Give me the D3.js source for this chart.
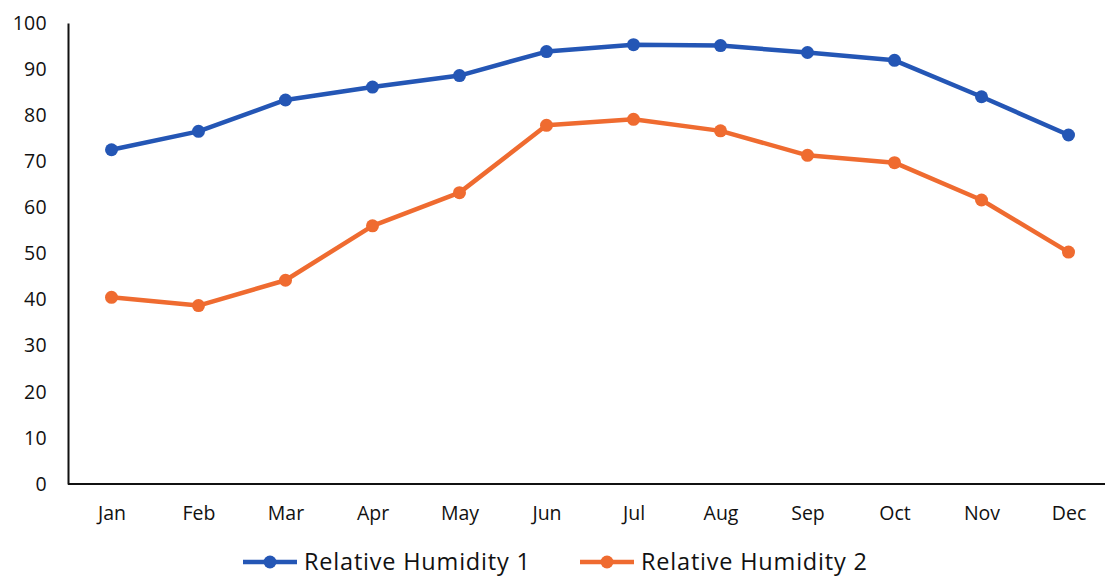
<!DOCTYPE html>
<html>
<head>
<meta charset="utf-8">
<script src="https://cdn.jsdelivr.net/npm/d3@7"></script>
<style>
  body { margin: 0; background: #fff; }
  text { font-family: "Open Sans", Lato, sans-serif; fill: #111; }
</style>
</head>
<body>
<div id="chart"></div>
<script>
// chart data
const months = ["Jan", "Feb", "Mar", "Apr", "May", "Jun", "Jul", "Aug", "Sep", "Oct", "Nov", "Dec"];
const humidity1 = [72.5, 76.5, 83.3, 86.1, 88.6, 93.8, 95.3, 95.1, 93.6, 91.9, 84.0, 75.7];
const humidity2 = [40.5, 38.7, 44.2, 56.0, 63.2, 77.8, 79.1, 76.6, 71.3, 69.7, 61.6, 50.3];
const seriesNames = ["Relative Humidity 1", "Relative Humidity 2"];
const seriesColors = ["#2456b5", "#ef6b30"];
const yTicks = [0, 10, 20, 30, 40, 50, 60, 70, 80, 90, 100];

const width = 1105, height = 576;
const margin = { top: 23, right: -7, bottom: 92, left: 68 };

const svg = d3.select("#chart").append("svg")
    .attr("width", width)
    .attr("height", height);

const x = d3.scalePoint()
    .domain(months)
    .range([margin.left, width - margin.right])
    .padding(0.5);

const y = d3.scaleLinear()
    .domain([0, 100])
    .range([height - margin.bottom, margin.top]);

// y axis
const yAxis = svg.append("g")
    .attr("transform", `translate(${margin.left},0)`)
    .call(d3.axisLeft(y).tickValues(yTicks).tickSize(0).tickPadding(21));
yAxis.select(".domain").attr("stroke", "#111").attr("stroke-width", 2);
yAxis.selectAll("text").style("font-size", "19.5px").style("letter-spacing", "0.3px").attr("fill", "#111");

// x axis
const xAxis = svg.append("g")
    .attr("transform", `translate(0,${y(0)})`)
    .call(d3.axisBottom(x).tickSize(0).tickPadding(22));
xAxis.select(".domain").attr("stroke", "#111").attr("stroke-width", 2)
    .attr("d", `M${margin.left},0H${width}`);
xAxis.selectAll("text").style("font-size", "19.5px").attr("fill", "#111");

const line = d3.line()
    .x((d, i) => x(months[i]))
    .y(d => y(d));

[humidity1, humidity2].forEach((values, k) => {
    svg.append("path")
        .datum(values)
        .attr("fill", "none")
        .attr("stroke", seriesColors[k])
        .attr("stroke-width", 4.5)
        .attr("stroke-linejoin", "round")
        .attr("d", line);

    svg.selectAll(".dot" + k)
        .data(values)
        .enter().append("circle")
        .attr("cx", (d, i) => x(months[i]))
        .attr("cy", d => y(d))
        .attr("r", 6.5)
        .attr("fill", seriesColors[k]);
});

// legend
const legendX = [243, 580];
const legend = svg.selectAll(".legend-item")
    .data(seriesNames)
    .enter().append("g")
    .attr("class", "legend-item")
    .attr("transform", (d, i) => `translate(${legendX[i]}, 562)`);

legend.append("line")
    .attr("x1", 0).attr("x2", 54)
    .attr("stroke", (d, i) => seriesColors[i])
    .attr("stroke-width", 4.5);

legend.append("circle")
    .attr("cx", 27)
    .attr("r", 6.5)
    .attr("fill", (d, i) => seriesColors[i]);

legend.append("text")
    .attr("x", 61)
    .attr("dy", "0.35em")
    .style("font-size", "23.5px")
    .style("letter-spacing", "0.8px")
    .text(d => d);
</script>
</body>
</html>
